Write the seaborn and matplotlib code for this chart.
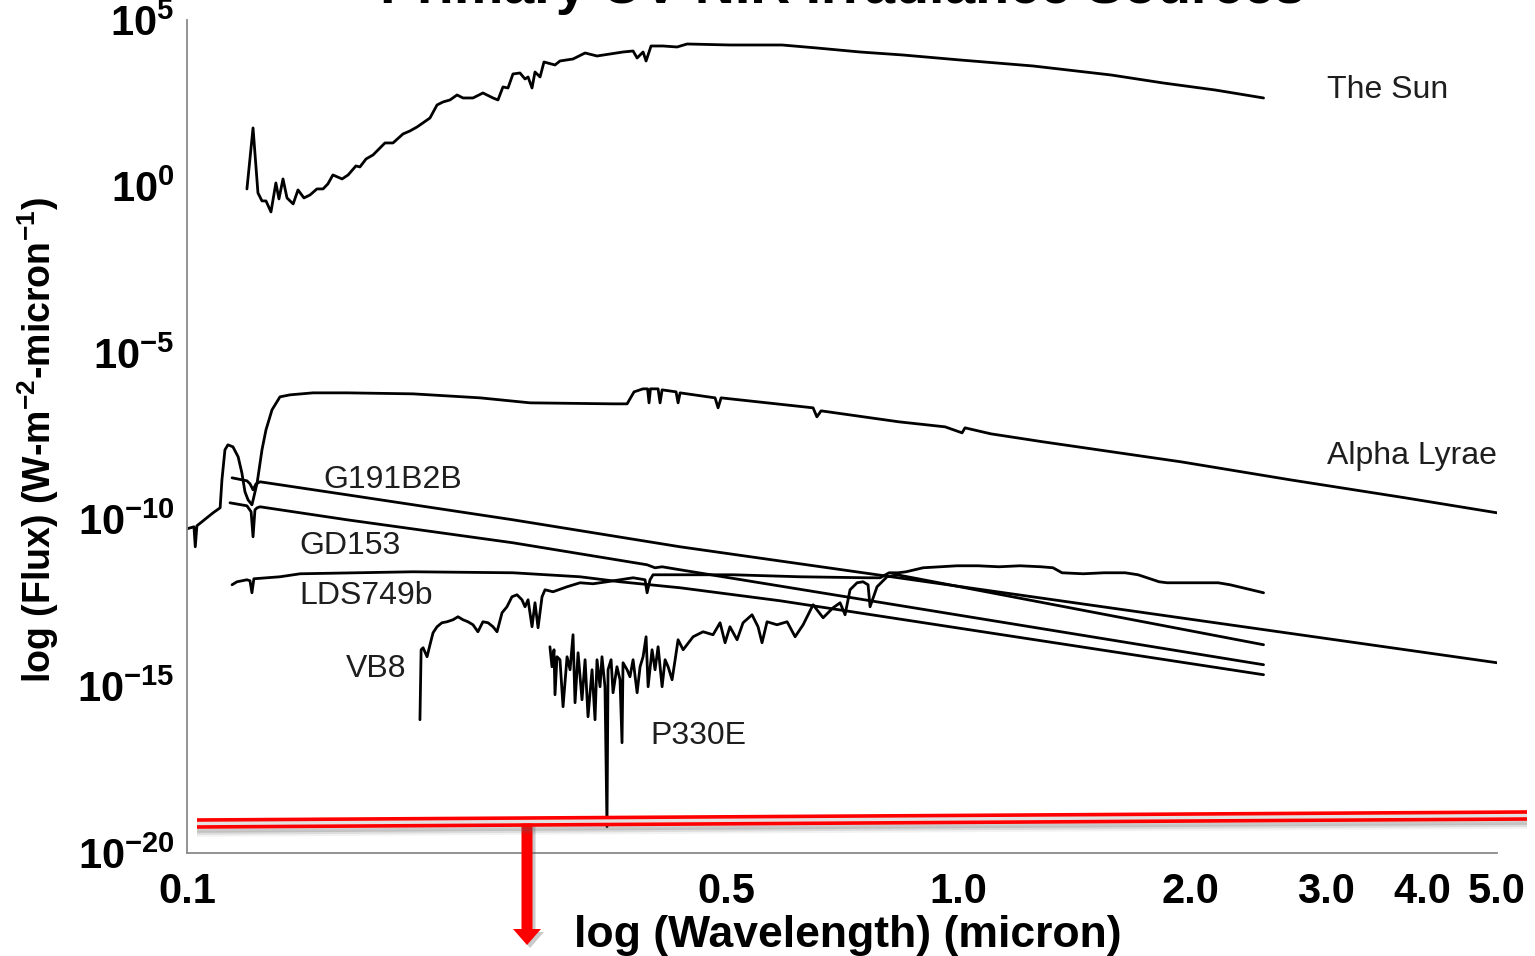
import numpy as np
import matplotlib
matplotlib.use("Agg")
import matplotlib.pyplot as plt
import matplotlib.transforms as mtransforms
from matplotlib.lines import Line2D
from matplotlib.patches import Polygon
from matplotlib.ticker import FixedLocator, NullFormatter, NullLocator
import seaborn as sns

# ---------------------------------------------------------------------------
# Spectra: wavelength (micron) and log10 flux (W m^-2 micron^-1)
# ---------------------------------------------------------------------------
sun_wl = [0.1196, 0.1218, 0.1236, 0.1251, 0.1266, 0.1285, 0.1304, 0.1316, 0.1332, 0.1348,
          0.1373, 0.1393, 0.1418, 0.1444, 0.1474, 0.1501, 0.1523, 0.1546, 0.1589, 0.1618,
          0.1656, 0.1676, 0.1707, 0.1743, 0.1806, 0.1850, 0.1906, 0.1946, 0.1988, 0.2066,
          0.2110, 0.2148, 0.2193, 0.2240, 0.2280, 0.2349, 0.2420, 0.2494, 0.2531, 0.2569,
          0.2608, 0.2647, 0.2703, 0.2744, 0.2769, 0.2802, 0.2827, 0.2870, 0.2904, 0.3001,
          0.3046, 0.3167, 0.3283, 0.3402, 0.3537, 0.3677, 0.3789, 0.3835, 0.3904, 0.3939,
          0.3998, 0.4144, 0.4321, 0.4452, 0.506, 0.591, 0.656, 0.746, 0.848, 1.006,
          1.251, 1.579, 1.845, 2.154, 2.49]
sun_logf = [-0.07, 1.76, -0.19, -0.43, -0.43, -0.76, 0.11, -0.37, 0.23, -0.34,
            -0.52, -0.10, -0.34, -0.25, -0.07, -0.07, 0.08, 0.35, 0.23, 0.35,
            0.62, 0.59, 0.83, 0.95, 1.31, 1.31, 1.58, 1.67, 1.79, 2.06,
            2.45, 2.54, 2.60, 2.75, 2.66, 2.66, 2.81, 2.66, 2.60, 2.99,
            2.96, 3.38, 3.41, 3.23, 3.29, 2.96, 3.44, 3.29, 3.74, 3.65,
            3.77, 3.83, 4.01, 3.92, 3.98, 4.04, 4.07, 3.86, 4.04, 3.77,
            4.22, 4.22, 4.19, 4.28, 4.25, 4.25, 4.16, 4.04, 3.95, 3.80,
            3.62, 3.35, 3.11, 2.90, 2.66]

vega_wl = [0.1000, 0.1021, 0.1025, 0.1030, 0.1081, 0.1104, 0.1110, 0.1120, 0.1130, 0.1147,
           0.1165, 0.1178, 0.1189, 0.1200, 0.1214, 0.1221, 0.1233, 0.1251, 0.1266, 0.1289,
           0.1320, 0.1360, 0.1457, 0.1613, 0.1964, 0.2399, 0.2786, 0.3569, 0.3722, 0.3800,
           0.3904, 0.3957, 0.3974, 0.3991, 0.4083, 0.4107, 0.4132, 0.4308, 0.4334, 0.4360,
           0.4840, 0.4884, 0.4928, 0.6486, 0.656, 0.6643, 0.8384, 0.9619, 1.012, 1.021,
           1.103, 1.289, 1.946, 2.696, 3.800, 5.0]
vega_logf = [-10.27, -10.21, -10.81, -10.18, -9.79, -9.64, -8.80, -7.90, -7.75, -7.81,
             -8.11, -8.59, -9.16, -9.40, -9.55, -9.31, -8.89, -7.90, -7.30, -6.70,
             -6.31, -6.25, -6.19, -6.19, -6.22, -6.34, -6.49, -6.52, -6.52, -6.16,
             -6.07, -6.07, -6.49, -6.07, -6.07, -6.49, -6.10, -6.16, -6.49, -6.19,
             -6.34, -6.64, -6.34, -6.64, -6.91, -6.73, -7.06, -7.21, -7.39, -7.24,
             -7.42, -7.66, -8.26, -8.80, -9.34, -9.79]

g191_wl = [0.1144, 0.1196, 0.1207, 0.1218, 0.1229, 0.1244, 0.1613, 0.2647, 0.4360, 5.0]
g191_logf = [-8.74, -8.83, -8.92, -9.10, -8.92, -8.86, -9.25, -10.00, -10.81, -14.29]

gd153_wl = [0.1137, 0.1196, 0.1211, 0.1218, 0.1225, 0.1233, 0.1244, 0.1613, 0.2647,
            0.3951, 0.4046, 0.4132, 0.4360, 2.49]
gd153_logf = [-9.49, -9.58, -9.76, -10.51, -9.70, -9.64, -9.61, -10.00, -10.69,
              -11.35, -11.44, -11.41, -11.50, -14.35]

lds_wl = [0.1144, 0.1161, 0.1196, 0.1207, 0.1214, 0.1221, 0.1320, 0.1402, 0.1964,
          0.2647, 0.3234, 0.3644, 0.4360, 0.5877, 2.49]
lds_logf = [-11.95, -11.86, -11.80, -11.83, -12.19, -11.77, -11.71, -11.62, -11.56,
            -11.59, -11.71, -11.86, -12.04, -12.43, -14.65]

vb8_wl = [0.2005, 0.2012, 0.2024, 0.2048, 0.2066, 0.2085, 0.2110, 0.2141, 0.2174, 0.2213,
          0.2246, 0.2280, 0.2314, 0.2349, 0.2384, 0.2420, 0.2457, 0.2494, 0.2524, 0.2562,
          0.2600, 0.2639, 0.2679, 0.2719, 0.2744, 0.2769, 0.2802, 0.2827, 0.2853, 0.2887,
          0.2913, 0.2983, 0.3111, 0.3234, 0.3362, 0.3505, 0.3644, 0.3789, 0.3927, 0.3951,
          0.3986, 0.4022, 0.4194, 0.5107, 0.6239, 0.7621, 0.7923, 0.8139, 0.8361, 0.8563,
          0.9008, 0.9478, 0.997, 1.0615, 1.130, 1.203, 1.282, 1.328, 1.364, 1.453,
          1.547, 1.647, 1.712, 1.823, 1.867, 1.988, 2.174, 2.253, 2.399, 2.49]
vb8_logf = [-16.00, -13.90, -13.84, -14.11, -13.75, -13.39, -13.21, -13.09, -13.06, -13.00,
            -12.91, -13.00, -13.06, -13.15, -13.36, -13.06, -13.09, -13.21, -13.36, -12.79,
            -12.61, -12.31, -12.25, -12.40, -12.61, -12.40, -13.21, -12.49, -13.24, -12.31,
            -12.10, -12.16, -12.01, -11.89, -11.92, -11.86, -11.80, -11.74, -11.80, -12.19,
            -11.80, -11.65, -11.65, -11.65, -11.71, -11.74, -11.74, -11.59, -11.59, -11.56,
            -11.44, -11.41, -11.38, -11.38, -11.41, -11.38, -11.41, -11.44, -11.59, -11.62,
            -11.59, -11.59, -11.65, -11.86, -11.89, -11.89, -11.89, -11.95, -12.10, -12.19]

p330e_wl = [0.2956, 0.2974, 0.2992, 0.3001, 0.3019, 0.3046, 0.3074, 0.3111, 0.3139, 0.3167,
            0.3186, 0.3215, 0.3253, 0.3283, 0.3312, 0.3352, 0.3382, 0.3402, 0.3433, 0.3453,
            0.3484, 0.3505, 0.3516, 0.3548, 0.3569, 0.3611, 0.3644, 0.3666, 0.3677, 0.3722,
            0.3754, 0.3789, 0.3835, 0.3869, 0.3904, 0.3939, 0.3963, 0.4010, 0.4046, 0.4083,
            0.4132, 0.4169, 0.4207, 0.4257, 0.4296, 0.4334, 0.4400, 0.4533, 0.4670, 0.4811,
            0.4913, 0.4987, 0.506, 0.5169, 0.5262, 0.5405, 0.5503, 0.5569, 0.5653, 0.5824,
            0.6002, 0.6147, 0.6296, 0.6486, 0.6683, 0.6885, 0.7031, 0.7136, 0.7243, 0.7396,
            0.7530, 0.7643, 0.7689, 0.7851, 0.8089, 0.8335, 2.49]
p330e_logf = [-13.81, -14.41, -13.90, -15.25, -14.11, -14.20, -15.61, -14.11, -14.50, -13.45,
              -15.49, -13.99, -15.40, -14.20, -15.91, -14.50, -16.00, -14.20, -15.01, -14.11,
              -15.01, -19.21, -14.50, -14.20, -15.19, -14.41, -14.80, -16.69, -14.29, -14.50,
              -14.71, -14.20, -15.19, -14.41, -14.11, -13.51, -15.01, -13.90, -14.50, -13.81,
              -15.01, -14.20, -14.41, -14.80, -14.20, -13.60, -13.90, -13.51, -13.36, -13.45,
              -13.09, -13.69, -13.21, -13.60, -13.09, -12.85, -13.21, -13.69, -13.06, -13.15,
              -13.06, -13.51, -13.15, -12.55, -12.94, -12.64, -12.49, -12.85, -12.10, -11.89,
              -11.86, -11.95, -12.61, -12.01, -11.71, -11.65, -13.75]

spectra = [
    ("The Sun", sun_wl, sun_logf),
    ("Alpha Lyrae", vega_wl, vega_logf),
    ("G191B2B", g191_wl, g191_logf),
    ("GD153", gd153_wl, gd153_logf),
    ("LDS749b", lds_wl, lds_logf),
    ("VB8", vb8_wl, vb8_logf),
    ("P330E", p330e_wl, p330e_logf),
]

# Name labels: (text, x in axes fraction, y in axes fraction)
star_labels = [
    ("The Sun", 0.870, 0.916),
    ("Alpha Lyrae", 0.870, 0.476),
    ("G191B2B", 0.104, 0.448),
    ("GD153", 0.086, 0.368),
    ("LDS749b", 0.086, 0.308),
    ("VB8", 0.121, 0.221),
    ("P330E", 0.354, 0.141),
]

x_ticks = [0.1, 0.5, 1.0, 2.0, 3.0, 4.0, 5.0]
x_tick_labels = ["0.1", "0.5", "1.0", "2.0", "3.0", "4.0", "5.0"]
y_major_exp = [5, 0, -5, -10, -15, -20]

title_text = "Primary UV-NIR Irradiance Sources"
x_label = "log (Wavelength) (micron)"
y_label = r"log (Flux) (W-m$^{-2}$-micron$^{-1}$)"

# ---------------------------------------------------------------------------
sns.set_theme(style="white")
plt.rcParams["font.family"] = ["Liberation Sans", "DejaVu Sans"]
plt.rcParams["mathtext.fontset"] = "custom"
plt.rcParams["mathtext.rm"] = "Liberation Sans"
plt.rcParams["mathtext.bf"] = "Liberation Sans:bold"
plt.rcParams["mathtext.default"] = "bf"

W, H = 1535, 956
fig = plt.figure(figsize=(W / 100, H / 100), dpi=100)
fig.patch.set_facecolor("white")
ax = fig.add_axes([187 / W, 1 - 853 / H, (1497 - 187) / W, (853 - 20) / H])
ax.set_facecolor("white")
ax.set_xscale("log")
ax.set_yscale("log")

for name, wl, lf in spectra:
    sns.lineplot(x=np.asarray(wl), y=10.0 ** np.asarray(lf), ax=ax, sort=False,
                 estimator=None, color="black", lw=2.0)

ax.set_xlim(0.1, 5.0)
ax.set_ylim(1e-20, 1e5)

ax.set_xticks(x_ticks)
ax.set_xticklabels(x_tick_labels, fontweight="bold", fontsize=30)
ax.xaxis.set_minor_locator(NullLocator())

ax.set_yticks([10.0 ** e for e in y_major_exp])
ax.set_yticklabels([rf"$10^{{{e}}}$" for e in y_major_exp], fontsize=30)
ax.yaxis.set_minor_locator(FixedLocator([10.0 ** e for e in range(-19, 5) if e % 5 != 0]))
ax.yaxis.set_minor_formatter(NullFormatter())

tick_grey = "#8a8a8a"
ax.tick_params(axis="y", which="major", direction="in", length=19, width=1.2,
               color=tick_grey, pad=9, labelcolor="black")
ax.tick_params(axis="y", which="minor", direction="in", length=9.5, width=1.2,
               color=tick_grey)
ax.tick_params(axis="x", which="major", direction="in", length=11.5, width=1.2,
               color=tick_grey, pad=14, labelcolor="black")

for side in ("top", "right"):
    ax.spines[side].set_visible(False)
for side in ("left", "bottom"):
    ax.spines[side].set_color(tick_grey)
    ax.spines[side].set_linewidth(1.3)

for text, fx, fy in star_labels:
    ax.text(fx, fy, text, transform=ax.transAxes, ha="left", va="center",
            fontsize=23, color="#1e1e1e")

fig.text(842 / W, 1 - 3 / H, title_text, ha="center", va="baseline",
         fontsize=40, fontweight="bold", color="black")
fig.text(848 / W, 1 - 935 / H, x_label, ha="center", va="center",
         fontsize=32, fontweight="bold", color="black")
fig.text(38 / W, 1 - 440 / H, y_label, ha="center", va="center", rotation=90,
         fontsize=27, fontweight="bold", color="black")

# Red cut-off marker with drop shadow and downward arrow (figure pixel coords)
px = mtransforms.Affine2D().scale(1 / W, -1 / H).translate(0, 1) + fig.transFigure
xa, xb = 197, 1527
for off, alpha in [(3, 0.22), (5, 0.15), (7, 0.08)]:
    fig.add_artist(Line2D([xa, xb], [827 + off, 819 + off], color="#606060",
                          lw=4, alpha=alpha, transform=px, solid_capstyle="butt"))
fig.add_artist(Line2D([xa, xb], [823.5, 815.5], color="#e2e2e2", lw=3,
                      transform=px, solid_capstyle="butt"))
fig.add_artist(Line2D([xa, xb], [820, 812], color="red", lw=2.6,
                      transform=px, solid_capstyle="butt"))
fig.add_artist(Line2D([xa, xb], [827, 819], color="red", lw=2.6,
                      transform=px, solid_capstyle="butt"))

arrow_pts = np.array([[521.5, 822], [532.5, 822], [532.5, 929], [541, 929],
                      [527, 945], [513, 929], [521.5, 929]])
fig.add_artist(Polygon(arrow_pts + [3, 3], closed=True, facecolor="#505050",
                       edgecolor="none", alpha=0.3, transform=px))
fig.add_artist(Polygon(arrow_pts, closed=True, facecolor="red", edgecolor="none",
                       transform=px))

fig.savefig("out.png", dpi=100)
